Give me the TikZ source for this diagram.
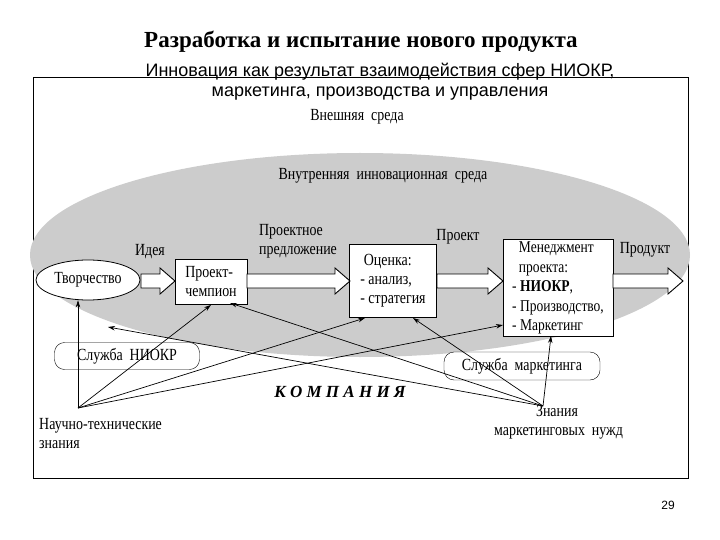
\documentclass[tikz,border=0pt]{standalone}
\usepackage{fontspec}
\setmainfont{Liberation Serif}
\newfontfamily\sansf{Liberation Sans}
\newfontfamily\cond[FakeStretch=0.82]{Liberation Serif}
\usetikzlibrary{shapes.geometric,arrows.meta}
\begin{document}
\begin{tikzpicture}[x=1pt,y=-1pt,
  txt/.style={font=\cond\fontsize{17}{19}\selectfont, inner sep=1pt},
  boxn/.style={draw, fill=white, thick, align=left, inner sep=2pt, font=\cond\fontsize{17}{19}\selectfont},
  rnd/.style={draw, fill=white, rounded corners=10pt, font=\cond\fontsize{17}{19}\selectfont},
  con/.style={-{Stealth[length=7pt,width=4.5pt]}, line width=0.7pt},
  fat/.style={draw, fill=white, line width=0.9pt}]
\useasboundingbox (0,0) rectangle (720,540);
\fill[white] (0,0) rectangle (720,540);
\node[font=\bfseries\fontsize{23}{26}\selectfont] (title) at (361,42) {Разработка и испытание нового продукта};
\node[font=\sansf\fontsize{18}{20}\selectfont, align=center] (sub) at (380,82) {Инновация как результат взаимодействия сфер НИОКР,\\маркетинга, производства и управления};
\draw[line width=0.9pt] (33,77) rectangle (688,478);
\fill[gray!40] (360,255) ellipse [x radius=330, y radius=102];
\node[txt] (ext) at (357,117) {Внешняя\ \ среда};
\node[txt] (int) at (383,176) {Внутренняя\ \ инновационная\ \ среда};
\node[draw, fill=white, thick, ellipse, inner sep=0pt, minimum width=104, minimum height=40, font=\cond\fontsize{17}{19}\selectfont] (tv) at (88,280) {Творчество};
\node[boxn, minimum width=72, minimum height=45] (ch) at (211,282) {Проект-\\чемпион};
\node[boxn, minimum width=87, minimum height=73] (oc) at (393,281) {\ Оценка:\\- анализ,\\- стратегия};
\node[boxn, minimum width=110, minimum height=96, font=\cond\fontsize{16.5}{19.5}\selectfont] (mg) at (558,288) {\ \ Менеджмент\\\ \ проекта:\\- \textbf{НИОКР},\\- Производство,\\- Маркетинг};
% block arrows
\foreach \a/\b in {141/175,247/350,437/503,613/683}{
  \draw[fat] (\a,274) -- (\b-15,274) -- (\b-15,268) -- (\b,281) -- (\b-15,294) -- (\b-15,288) -- (\a,288) -- cycle;}
\node[txt] (idea) at (150,252) {Идея};
\node[txt, align=left] (pp) at (298,241) {Проектное\\предложение};
\node[txt] (pr) at (458,237) {Проект};
\node[txt] (prod) at (645,250) {Продукт};
\node[rnd, minimum width=145, minimum height=27] (sn) at (127,356) {Служба\ \ НИОКР};
\node[rnd, minimum width=156, minimum height=28] (sm) at (522,366) {Служба\ \ маркетинга};
\node[font=\bfseries\itshape\fontsize{17}{19}\selectfont] (komp) at (340,392) {К О М П А Н И Я};
\coordinate (nt) at (78,408);
\coordinate (zn) at (543,406);
\node[txt, align=left, anchor=north west] (ntt) at (38,417) {Научно-технические\\знания};
\node[txt, align=left, anchor=north west] (znt) at (493,404) {\ \ \ \ \ \ \ \ \ \ \ \ Знания\\маркетинговых\ \ нужд};
\draw[con] (nt) -- (tv.south -| nt);
\draw[con] (nt) -- (ch.south);
\draw[con] (nt) -- (365,318);
\draw[con] (nt) -- (503,325);
\draw[con] (zn) -- (108,327);
\draw[con] (zn) -- (230,303);
\draw[con] (zn) -- (413,318);
\draw[con] (zn) -- (551,336);
\node[font=\sansf\fontsize{12}{14}\selectfont] (pg) at (668,505) {29};
\end{tikzpicture}
\end{document}
